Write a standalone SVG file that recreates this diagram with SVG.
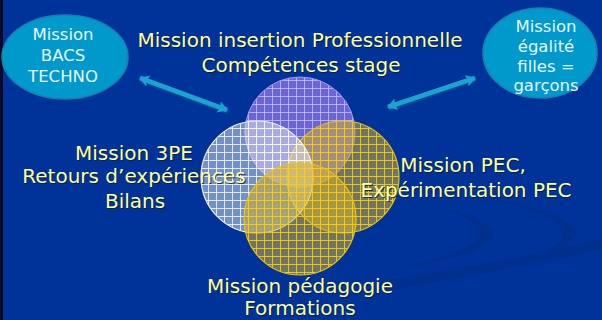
<svg xmlns="http://www.w3.org/2000/svg" width="602" height="320" viewBox="0 0 602 320">
<defs>
<style>
.t{font-family:"DejaVu Sans","Liberation Sans",sans-serif;font-size:20px;fill:#FFFF99;text-anchor:middle}
.sh{font-family:"DejaVu Sans","Liberation Sans",sans-serif;font-size:20px;fill:#0a1a40;text-anchor:middle;opacity:0.8}
.e{font-family:"DejaVu Sans","Liberation Sans",sans-serif;font-size:16.5px;fill:#EAF6FF;text-anchor:middle}
.ell{fill:#0099CC;stroke:#1b7fae;stroke-width:1.5}
.arr{stroke:#1aa5d0;stroke-width:5;fill:none}
.arrs{stroke:#0b5f8a;stroke-width:5;fill:none}
</style>
<pattern id="gP" width="8" height="8" patternUnits="userSpaceOnUse">
<rect width="8" height="8" fill="#8474e4" fill-opacity="0.8"/>
<path d="M0 0.5H8M0.5 0V8" stroke="#c4b8ff" stroke-width="1" stroke-opacity="0.85"/>
</pattern>
<pattern id="gW" width="8" height="8" patternUnits="userSpaceOnUse">
<rect width="8" height="8" fill="#e8eef8" fill-opacity="0.5"/>
<path d="M0 0.5H8M0.5 0V8" stroke="#ffffff" stroke-width="1" stroke-opacity="0.8"/>
</pattern>
<pattern id="gY" width="8" height="8" patternUnits="userSpaceOnUse">
<rect width="8" height="8" fill="#d8b430" fill-opacity="0.52"/>
<path d="M0 0.5H8M0.5 0V8" stroke="#ffcc00" stroke-width="1" stroke-opacity="0.9"/>
</pattern>
<marker id="ah" viewBox="0 0 10 12" refX="9" refY="6" markerWidth="10" markerHeight="12" markerUnits="userSpaceOnUse" orient="auto-start-reverse">
<path d="M0 0L10 6L0 12L2 6Z" fill="#1aa5d0"/>
</marker>
</defs>
<rect width="602" height="320" fill="#003399"/>
<rect width="3" height="320" fill="#0a0a28"/>
<g id="background-swooshes" fill="#00308e">
<path d="M380 282C470 266 540 254 602 238L602 250C540 264 470 276 380 292Z"/>
<path d="M430 206C485 214 505 232 486 246C462 258 420 266 382 272C420 262 458 254 474 242C486 230 472 216 430 206Z"/>
<path d="M480 198C545 206 585 224 574 238C564 250 545 256 532 258C552 250 566 240 562 230C554 216 525 206 480 198Z"/>
</g>
<g id="connectors">
<line class="arrs" x1="141" y1="80" x2="228" y2="112" opacity="0.5"/>
<line class="arr" x1="140" y1="78" x2="227" y2="110" marker-start="url(#ah)" marker-end="url(#ah)"/>
<line class="arrs" x1="389" y1="109" x2="474" y2="80" opacity="0.5"/>
<line class="arr" x1="388" y1="107" x2="475" y2="78" marker-start="url(#ah)" marker-end="url(#ah)"/>
</g>
<g id="circle-insertion">
<circle cx="300" cy="132" r="55" fill="url(#gP)" stroke="#a898f0" stroke-width="1"/>
</g>
<g id="circle-pec">
<circle cx="343" cy="177" r="56" fill="url(#gY)" stroke="#f2c200" stroke-width="1.2"/>
</g>
<g id="circle-3pe">
<circle cx="257" cy="177" r="56" fill="url(#gW)" stroke="#f4f4e8" stroke-width="1.2"/>
</g>
<g id="circle-pedagogie">
<circle cx="300" cy="219" r="56" fill="url(#gY)" stroke="#f2c200" stroke-width="1.2"/>
</g>
<g id="node-bacs">
<ellipse class="ell" cx="65" cy="57" rx="63" ry="42"/>
<text class="e" x="63" y="40">Mission</text>
<text class="e" x="63" y="61">BACS</text>
<text class="e" x="63" y="82">TECHNO</text>
</g>
<g id="node-egalite">
<ellipse class="ell" cx="540" cy="53" rx="57" ry="45"/>
<text class="e" x="546" y="32">Mission</text>
<text class="e" x="546" y="52">égalité</text>
<text class="e" x="546" y="72">filles =</text>
<text class="e" x="546" y="91">garçons</text>
</g>
<g id="label-insertion">
<text class="sh" x="301" y="48">Mission insertion Professionnelle</text>
<text class="t" x="300" y="47">Mission insertion Professionnelle</text>
<text class="sh" x="302" y="73">Compétences stage</text>
<text class="t" x="301" y="72">Compétences stage</text>
</g>
<g id="label-3pe">
<text class="sh" x="135" y="161">Mission 3PE</text>
<text class="t" x="134" y="160">Mission 3PE</text>
<text class="sh" x="135" y="184">Retours d’expériences</text>
<text class="t" x="134" y="183">Retours d’expériences</text>
<text class="sh" x="136" y="209">Bilans</text>
<text class="t" x="135" y="208">Bilans</text>
</g>
<g id="label-pec">
<text class="sh" x="464" y="173">Mission PEC,</text>
<text class="t" x="463" y="172">Mission PEC,</text>
<text class="sh" x="467" y="198">Expérimentation PEC</text>
<text class="t" x="466" y="197">Expérimentation PEC</text>
</g>
<g id="label-pedagogie">
<text class="sh" x="301" y="294">Mission pédagogie</text>
<text class="t" x="300" y="293">Mission pédagogie</text>
<text class="sh" x="301" y="316">Formations</text>
<text class="t" x="300" y="315">Formations</text>
</g>
</svg>
